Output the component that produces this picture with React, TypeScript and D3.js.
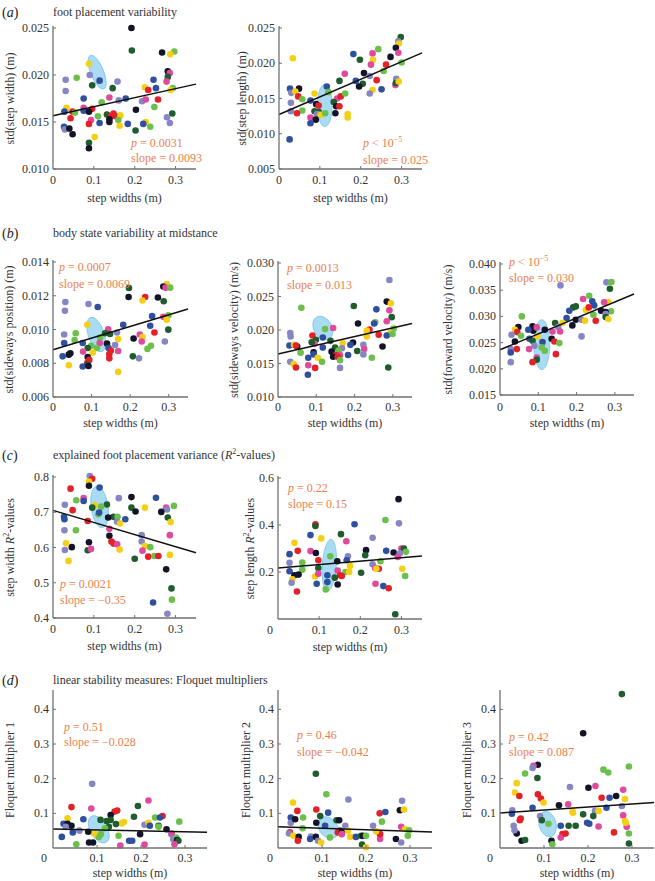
import React from "react";
import * as d3 from "d3";

const COLORS = ["#141428", "#1f5c2e", "#6cbf4a", "#f5cf14", "#e22128", "#df4a9d", "#2f4f9f", "#8686c4"];

type Pt = [number, number, number];

const xTickValues = [0, 0.1, 0.2, 0.3];

const stepWidthPts: Pt[] = [
  [0.192,0.0250,0],[0.193,0.0226,1],[0.267,0.0224,0],[0.297,0.0225,2],[0.287,0.0222,3],[0.088,0.0212,3],[0.281,0.0204,0],[0.286,0.0202,5],[0.281,0.0198,1],[0.058,0.0197,2],[0.031,0.0195,7],[0.090,0.0200,7],[0.114,0.0194,6],[0.158,0.0193,7],[0.246,0.0195,6],[0.278,0.0193,5],[0.096,0.0189,1],[0.146,0.0186,1],[0.225,0.0187,3],[0.252,0.0186,6],[0.293,0.0186,2],[0.288,0.0184,3],[0.233,0.0184,4],[0.031,0.0183,7],[0.075,0.0175,6],[0.138,0.0176,5],[0.178,0.0175,6],[0.161,0.0173,7],[0.218,0.0172,7],[0.227,0.0174,5],[0.257,0.0174,4],[0.119,0.0171,2],[0.033,0.0165,3],[0.028,0.0161,6],[0.075,0.0165,5],[0.096,0.0164,4],[0.075,0.0162,6],[0.088,0.0161,0],[0.048,0.0161,4],[0.054,0.0160,2],[0.132,0.0158,1],[0.203,0.0163,0],[0.248,0.0166,2],[0.292,0.0159,1],[0.148,0.0159,4],[0.154,0.0156,4],[0.165,0.0157,3],[0.110,0.0156,2],[0.142,0.0156,4],[0.043,0.0154,4],[0.138,0.0153,0],[0.093,0.0152,5],[0.160,0.0152,2],[0.138,0.0150,0],[0.114,0.0149,6],[0.088,0.0148,4],[0.183,0.0148,6],[0.227,0.0150,3],[0.221,0.0148,6],[0.238,0.0145,2],[0.163,0.0146,3],[0.279,0.0155,7],[0.286,0.0149,7],[0.027,0.0145,6],[0.029,0.0142,7],[0.040,0.0143,0],[0.048,0.0137,0],[0.102,0.0134,3],[0.088,0.0128,1],[0.088,0.0122,0],[0.202,0.0141,1]
];

const stepLengthPts: Pt[] = [
  [0.298,0.0237,1],[0.292,0.0231,7],[0.293,0.0228,3],[0.286,0.0222,0],[0.243,0.0220,2],[0.229,0.0214,5],[0.182,0.0213,6],[0.292,0.0215,5],[0.273,0.0209,0],[0.034,0.0207,3],[0.198,0.0205,1],[0.230,0.0205,3],[0.300,0.0201,2],[0.225,0.0198,5],[0.262,0.0198,4],[0.208,0.0186,0],[0.161,0.0185,5],[0.256,0.0189,2],[0.222,0.0182,7],[0.148,0.0175,1],[0.188,0.0175,6],[0.239,0.0176,4],[0.205,0.0171,1],[0.196,0.0167,0],[0.285,0.0169,5],[0.287,0.0178,7],[0.286,0.0172,1],[0.293,0.0174,3],[0.251,0.0163,6],[0.229,0.0162,3],[0.222,0.0157,7],[0.027,0.0164,6],[0.049,0.0164,0],[0.030,0.0158,7],[0.040,0.0160,3],[0.047,0.0153,4],[0.057,0.0149,2],[0.077,0.0147,6],[0.029,0.0144,7],[0.087,0.0157,3],[0.117,0.0167,6],[0.121,0.0159,2],[0.142,0.0150,5],[0.151,0.0153,4],[0.162,0.0157,2],[0.134,0.0145,1],[0.091,0.0142,0],[0.097,0.0140,4],[0.140,0.0139,0],[0.148,0.0139,4],[0.029,0.0132,7],[0.057,0.0133,2],[0.044,0.0129,4],[0.087,0.0132,1],[0.097,0.0131,1],[0.093,0.0128,7],[0.102,0.0127,3],[0.113,0.0129,2],[0.138,0.0129,0],[0.077,0.0123,5],[0.090,0.0120,0],[0.168,0.0128,3],[0.168,0.0123,3],[0.077,0.0115,6],[0.026,0.0092,6]
];

const sidePosPts: Pt[] = [
  [0.295,0.01269,3],[0.286,0.01255,0],[0.292,0.01248,5],[0.304,0.01248,2],[0.197,0.01246,1],[0.272,0.0119,0],[0.196,0.01193,0],[0.239,0.01193,4],[0.232,0.01172,3],[0.287,0.01167,1],[0.032,0.01163,7],[0.092,0.01151,7],[0.116,0.01133,6],[0.031,0.01111,7],[0.257,0.01079,6],[0.299,0.01084,2],[0.286,0.01075,5],[0.182,0.01028,6],[0.295,0.01058,3],[0.089,0.01028,3],[0.143,0.01001,5],[0.252,0.01022,6],[0.299,0.00999,1],[0.059,0.00978,2],[0.135,0.00978,1],[0.263,0.00982,4],[0.166,0.00982,7],[0.148,0.00973,1],[0.029,0.0097,7],[0.225,0.0097,5],[0.122,0.00952,2],[0.209,0.00947,0],[0.169,0.00943,3],[0.232,0.00956,3],[0.230,0.00929,5],[0.290,0.00929,7],[0.056,0.00938,2],[0.029,0.0092,6],[0.077,0.0092,6],[0.121,0.0092,5],[0.099,0.00904,2],[0.140,0.00917,0],[0.161,0.00908,7],[0.144,0.0089,6],[0.254,0.00904,2],[0.245,0.00885,2],[0.090,0.0089,1],[0.078,0.00869,5],[0.114,0.0089,2],[0.169,0.00873,5],[0.103,0.00864,3],[0.045,0.00859,0],[0.041,0.00851,0],[0.150,0.00876,4],[0.146,0.00855,4],[0.025,0.00841,6],[0.207,0.00841,1],[0.090,0.00837,0],[0.146,0.00829,4],[0.223,0.00829,7],[0.094,0.0082,4],[0.089,0.00802,4],[0.089,0.00793,1],[0.077,0.00781,6],[0.092,0.00784,0],[0.041,0.00788,3],[0.169,0.00749,3]
];

const sideVelPts: Pt[] = [
  [0.291,0.02747,7],[0.284,0.02424,0],[0.295,0.02399,3],[0.061,0.02333,2],[0.198,0.02359,1],[0.257,0.02308,6],[0.291,0.02293,5],[0.297,0.02192,1],[0.284,0.02131,5],[0.254,0.02116,2],[0.209,0.02096,0],[0.251,0.02096,6],[0.144,0.0203,5],[0.123,0.02015,2],[0.302,0.0202,2],[0.239,0.02005,4],[0.232,0.0199,3],[0.293,0.01955,3],[0.284,0.01919,6],[0.299,0.0194,2],[0.263,0.01929,4],[0.232,0.01904,3],[0.032,0.01955,7],[0.033,0.01904,7],[0.090,0.01919,4],[0.117,0.01889,6],[0.099,0.01854,1],[0.137,0.01838,1],[0.095,0.01793,5],[0.088,0.01818,1],[0.169,0.01803,3],[0.196,0.01813,0],[0.189,0.01778,6],[0.223,0.01778,7],[0.030,0.01768,6],[0.042,0.01778,3],[0.050,0.01753,0],[0.047,0.01768,4],[0.149,0.01737,1],[0.117,0.01737,6],[0.167,0.01727,7],[0.225,0.01717,5],[0.140,0.01677,0],[0.207,0.01687,1],[0.158,0.01692,2],[0.093,0.01667,0],[0.093,0.01636,6],[0.151,0.01626,4],[0.144,0.0160,0],[0.223,0.01636,7],[0.059,0.01662,2],[0.162,0.01626,5],[0.183,0.01626,6],[0.156,0.0160,4],[0.104,0.01586,3],[0.079,0.01586,6],[0.162,0.0155,2],[0.245,0.01586,2],[0.273,0.01753,0],[0.032,0.01525,7],[0.115,0.01525,2],[0.041,0.0149,3],[0.047,0.0144,4],[0.079,0.01475,5],[0.097,0.01434,4],[0.162,0.01434,7],[0.288,0.0144,1],[0.078,0.01333,6]
];

const fwdVelPts: Pt[] = [
  [0.158,0.03592,7],[0.278,0.0365,7],[0.291,0.03656,2],[0.287,0.03529,1],[0.233,0.03395,2],[0.217,0.03331,5],[0.241,0.03287,6],[0.283,0.03274,3],[0.272,0.03268,5],[0.246,0.0321,6],[0.198,0.03191,1],[0.191,0.03172,1],[0.181,0.03108,6],[0.224,0.03127,3],[0.232,0.03172,4],[0.264,0.03108,0],[0.290,0.03096,2],[0.276,0.03083,0],[0.276,0.03045,7],[0.244,0.03032,2],[0.250,0.02917,4],[0.057,0.0300,2],[0.276,0.02987,1],[0.283,0.02949,3],[0.174,0.02968,6],[0.198,0.02936,0],[0.213,0.02936,7],[0.222,0.02917,3],[0.144,0.02873,1],[0.163,0.02873,3],[0.189,0.02828,0],[0.152,0.02796,7],[0.048,0.02796,0],[0.157,0.02713,5],[0.137,0.02713,5],[0.085,0.02809,0],[0.087,0.02726,0],[0.074,0.02745,6],[0.039,0.02745,3],[0.045,0.0270,4],[0.096,0.0279,5],[0.030,0.0265,7],[0.055,0.0263,2],[0.117,0.02745,0],[0.213,0.02618,7],[0.098,0.02618,3],[0.077,0.02573,6],[0.085,0.02535,1],[0.039,0.02522,0],[0.135,0.02573,0],[0.142,0.02522,4],[0.111,0.0251,6],[0.155,0.0249,2],[0.028,0.02376,7],[0.028,0.02312,6],[0.044,0.02376,4],[0.076,0.02376,5],[0.090,0.0244,7],[0.109,0.02408,2],[0.117,0.02344,2],[0.146,0.0228,4],[0.096,0.02217,5],[0.096,0.02172,1],[0.085,0.02127,4],[0.028,0.02127,7]
];

const widthR2Pts: Pt[] = [
  [0.090,0.803,7],[0.096,0.795,4],[0.088,0.787,3],[0.088,0.775,0],[0.043,0.767,4],[0.114,0.770,6],[0.075,0.740,5],[0.075,0.732,6],[0.057,0.734,2],[0.161,0.740,7],[0.192,0.743,0],[0.252,0.741,6],[0.029,0.721,7],[0.102,0.720,3],[0.132,0.722,1],[0.118,0.716,2],[0.096,0.713,1],[0.277,0.713,5],[0.279,0.708,7],[0.296,0.718,2],[0.225,0.713,3],[0.192,0.713,1],[0.048,0.706,4],[0.202,0.702,0],[0.265,0.701,0],[0.027,0.687,6],[0.028,0.680,6],[0.148,0.687,1],[0.158,0.687,2],[0.177,0.680,6],[0.111,0.694,2],[0.113,0.699,6],[0.135,0.685,0],[0.281,0.685,1],[0.157,0.673,7],[0.164,0.668,3],[0.288,0.672,3],[0.085,0.675,4],[0.138,0.653,5],[0.028,0.649,7],[0.056,0.649,2],[0.217,0.635,7],[0.138,0.633,0],[0.286,0.635,5],[0.143,0.617,4],[0.148,0.611,4],[0.157,0.609,5],[0.217,0.617,7],[0.225,0.604,3],[0.238,0.601,2],[0.088,0.615,0],[0.046,0.601,0],[0.032,0.612,3],[0.029,0.593,7],[0.085,0.592,1],[0.093,0.596,5],[0.163,0.594,3],[0.219,0.591,5],[0.038,0.562,3],[0.200,0.568,1],[0.233,0.574,4],[0.248,0.576,2],[0.258,0.576,4],[0.286,0.579,3],[0.277,0.538,0],[0.290,0.484,1],[0.245,0.444,6],[0.280,0.412,7],[0.291,0.452,2]
];

const lengthR2Pts: Pt[] = [
  [0.293,0.51,0],[0.261,0.421,2],[0.294,0.407,7],[0.091,0.403,4],[0.091,0.396,1],[0.186,0.403,6],[0.153,0.361,1],[0.079,0.357,6],[0.230,0.346,7],[0.040,0.324,3],[0.105,0.343,3],[0.166,0.331,5],[0.214,0.293,0],[0.048,0.290,4],[0.079,0.289,5],[0.092,0.281,0],[0.263,0.290,6],[0.281,0.283,0],[0.300,0.300,5],[0.306,0.300,1],[0.311,0.286,2],[0.296,0.279,7],[0.291,0.264,5],[0.028,0.276,6],[0.170,0.267,7],[0.212,0.271,1],[0.127,0.267,2],[0.098,0.250,4],[0.167,0.250,6],[0.028,0.239,7],[0.059,0.240,2],[0.144,0.246,0],[0.230,0.233,7],[0.249,0.246,2],[0.098,0.217,1],[0.059,0.210,2],[0.175,0.226,3],[0.245,0.214,4],[0.236,0.217,5],[0.239,0.214,3],[0.028,0.203,6],[0.145,0.206,5],[0.202,0.197,1],[0.164,0.200,2],[0.173,0.200,3],[0.302,0.214,3],[0.151,0.186,4],[0.155,0.183,4],[0.040,0.186,0],[0.050,0.189,0],[0.090,0.181,3],[0.120,0.186,6],[0.098,0.193,5],[0.138,0.176,1],[0.309,0.183,2],[0.035,0.169,3],[0.033,0.154,7],[0.120,0.157,6],[0.094,0.150,6],[0.145,0.147,0],[0.237,0.150,5],[0.256,0.140,6],[0.269,0.131,4],[0.046,0.117,4],[0.116,0.126,2],[0.285,0.020,1]
];

const floquet1Pts: Pt[] = [
  [0.089,0.185,7],[0.087,0.114,5],[0.042,0.118,4],[0.217,0.137,5],[0.193,0.121,1],[0.140,0.105,4],[0.146,0.108,4],[0.131,0.095,0],[0.033,0.086,3],[0.069,0.083,6],[0.184,0.090,1],[0.232,0.088,2],[0.249,0.092,4],[0.243,0.088,6],[0.287,0.076,2],[0.024,0.070,6],[0.033,0.070,0],[0.042,0.064,0],[0.029,0.061,7],[0.122,0.078,1],[0.156,0.071,3],[0.208,0.067,7],[0.217,0.073,3],[0.240,0.064,1],[0.220,0.064,6],[0.240,0.061,2],[0.258,0.054,0],[0.269,0.040,7],[0.270,0.042,5],[0.273,0.026,7],[0.280,0.030,2],[0.282,0.023,0],[0.285,0.021,1],[0.276,0.011,5],[0.020,0.032,6],[0.045,0.045,6],[0.060,0.050,7],[0.053,0.011,2],[0.082,0.016,0],[0.091,0.016,0],[0.104,0.032,2],[0.093,0.042,3],[0.109,0.040,2],[0.080,0.047,0],[0.127,0.061,1],[0.118,0.057,2],[0.149,0.035,2],[0.153,0.007,5],[0.173,0.021,6],[0.180,0.021,6],[0.198,0.040,0],[0.208,0.010,5],[0.143,0.069,1],[0.161,0.075,3],[0.131,0.081,1],[0.108,0.081,1]
];

const floquet2Pts: Pt[] = [
  [0.086,0.214,1],[0.110,0.155,2],[0.160,0.140,7],[0.034,0.131,3],[0.282,0.136,7],[0.044,0.107,4],[0.087,0.111,4],[0.277,0.109,0],[0.286,0.111,3],[0.114,0.102,6],[0.231,0.100,4],[0.244,0.104,6],[0.029,0.088,6],[0.057,0.088,2],[0.096,0.092,1],[0.029,0.073,7],[0.039,0.083,0],[0.087,0.073,0],[0.133,0.080,1],[0.139,0.080,0],[0.236,0.076,2],[0.107,0.064,6],[0.027,0.045,4],[0.025,0.042,7],[0.035,0.035,3],[0.047,0.032,0],[0.045,0.021,4],[0.056,0.057,2],[0.075,0.033,7],[0.073,0.026,6],[0.086,0.032,0],[0.091,0.021,7],[0.098,0.016,3],[0.118,0.030,2],[0.141,0.050,1],[0.136,0.045,4],[0.145,0.045,0],[0.145,0.040,5],[0.164,0.032,3],[0.177,0.032,6],[0.189,0.035,1],[0.193,0.035,0],[0.200,0.035,2],[0.191,0.010,1],[0.200,0.002,3],[0.232,0.026,5],[0.232,0.040,4],[0.223,0.048,3],[0.216,0.064,7],[0.268,0.026,0],[0.280,0.016,7],[0.295,0.035,2],[0.280,0.061,5],[0.289,0.054,3],[0.298,0.051,2],[0.153,0.064,7],[0.159,0.050,3]
];

const floquet3Pts: Pt[] = [
  [0.277,0.444,1],[0.189,0.331,0],[0.293,0.235,2],[0.086,0.240,0],[0.076,0.237,5],[0.074,0.231,7],[0.057,0.215,2],[0.235,0.226,2],[0.246,0.218,2],[0.085,0.202,1],[0.038,0.187,3],[0.201,0.174,0],[0.217,0.179,5],[0.159,0.176,7],[0.034,0.160,3],[0.044,0.150,4],[0.086,0.155,4],[0.280,0.168,5],[0.093,0.143,4],[0.231,0.145,4],[0.249,0.145,6],[0.264,0.150,0],[0.099,0.131,3],[0.284,0.141,3],[0.134,0.123,0],[0.155,0.126,5],[0.074,0.116,6],[0.028,0.109,7],[0.027,0.099,6],[0.216,0.107,7],[0.277,0.121,7],[0.224,0.107,3],[0.165,0.105,3],[0.189,0.097,1],[0.242,0.116,6],[0.047,0.085,4],[0.091,0.092,7],[0.095,0.080,1],[0.110,0.070,2],[0.280,0.094,5],[0.284,0.078,3],[0.038,0.042,0],[0.049,0.021,0],[0.057,0.023,1],[0.045,0.080,4],[0.031,0.064,7],[0.117,0.021,0],[0.119,0.011,2],[0.138,0.064,6],[0.156,0.064,1],[0.172,0.064,1],[0.142,0.040,4],[0.138,0.030,5],[0.149,0.042,4],[0.198,0.073,6],[0.203,0.070,6],[0.224,0.062,5],[0.259,0.045,4],[0.288,0.061,5],[0.293,0.042,2],[0.293,0.013,1],[0.286,0.073,3],[0.212,0.092,1],[0.166,0.102,3],[0.033,0.051,7]
];

type PanelSpec = {
  left: number; right: number; top: number; bottom: number;
  yDomain: [number, number]; yTicks: number[]; yDigits: number;
  yLabel: React.ReactNode; yLabelX: number;
  pts: Pt[]; fit: [number, number];
  ell: { x: number; y: number; rx: number; ry: number; rot: number };
  pText: React.ReactNode; slopeText: string; annX: number; annY1: number; annY2: number;
  zeroShift: number; tickGap: number; labelGap: number;
};

const ORANGE = "#ea7f4e";
const AXIS = "#707070";
const FONT = "'Liberation Serif', 'DejaVu Serif', 'Times New Roman', serif";

const pEq = (v: string) => (<><tspan fontStyle="italic">p</tspan>{" = " + v}</>);
const pLess = (<><tspan fontStyle="italic">p</tspan>{" < 10"}<tspan fontSize={8} dy={-5}>{"\u22125"}</tspan></>);
const R2 = (pre: string, post: string) => (<>{pre}<tspan fontStyle="italic">R</tspan><tspan fontSize={8} dy={-5}>2</tspan><tspan dy={5}>{post}</tspan></>);

function Panel({ s }: { s: PanelSpec }) {
  const x = d3.scaleLinear().domain([0, 0.35]).range([s.left, s.right]);
  const y = d3.scaleLinear().domain(s.yDomain).range([s.bottom, s.top]);
  const fmt = d3.format(`.${s.yDigits}f`);
  const line = d3.line<number>().x((d) => x(d)).y((d) => y(s.fit[0] + s.fit[1] * d));
  const midY = (s.top + s.bottom) / 2;
  return (
    <g>
      <ellipse
        transform={`translate(${x(s.ell.x)},${y(s.ell.y)}) rotate(${s.ell.rot})`}
        rx={s.ell.rx} ry={s.ell.ry} fill="#a9dbf2" stroke="#78c6ea" strokeWidth={0.8}
      />
      {s.pts.map((p, i) => (
        <circle key={i} cx={x(p[0])} cy={y(p[1])} r={3.3} fill={COLORS[p[2]]} />
      ))}
      <path d={line([0, 0.35]) || ""} stroke="#111" strokeWidth={1.5} fill="none" />
      <line x1={s.left} x2={s.left} y1={s.top - 2} y2={s.bottom} stroke={AXIS} strokeWidth={1.3} />
      <line x1={s.left} x2={s.right} y1={s.bottom} y2={s.bottom} stroke={AXIS} strokeWidth={1.3} />
      {s.yTicks.map((t) => (
        <g key={t}>
          <line x1={s.left} x2={s.left + 3} y1={y(t)} y2={y(t)} stroke={AXIS} strokeWidth={1} />
          <text x={s.left - 4} y={y(t) + 4} textAnchor="end" fontSize={12} fill="#333">{fmt(t)}</text>
        </g>
      ))}
      {xTickValues.map((t) => (
        <g key={t}>
          {t > 0 && <line x1={x(t)} x2={x(t)} y1={s.bottom} y2={s.bottom - 3} stroke={AXIS} strokeWidth={1} />}
          <text x={x(t) - (t === 0 ? s.zeroShift : 0)} y={s.bottom + s.tickGap} textAnchor="middle" fontSize={12} fill="#333">
            {t === 0 ? "0" : d3.format(".1f")(t)}
          </text>
        </g>
      ))}
      <text x={(s.left + s.right) / 2} y={s.bottom + s.labelGap} textAnchor="middle" fontSize={12} fill="#333">step widths (m)</text>
      <text transform={`translate(${s.yLabelX},${midY}) rotate(-90)`} textAnchor="middle" dy={4} fontSize={12} fill="#333">{s.yLabel}</text>
      <text x={s.annX} y={s.annY1 + 4} fontSize={12} fill={ORANGE}>{s.pText}</text>
      <text x={s.annX} y={s.annY2 + 4} fontSize={12} fill={ORANGE}>{s.slopeText}</text>
    </g>
  );
}

const ticks = (a: number, b: number, st: number) => d3.range(a, b + st / 2, st);

const panels: PanelSpec[] = [
  { left: 53, right: 196, top: 28, bottom: 169, yDomain: [0.01, 0.025], yTicks: ticks(0.01, 0.025, 0.005), yDigits: 3,
    yLabel: "std(step width)  (m)", yLabelX: 10, pts: stepWidthPts, fit: [0.01567, 0.0096],
    ell: { x: 0.108, y: 0.0203, rx: 6.5, ry: 18, rot: -22 }, pText: pEq("0.0031"), slopeText: "slope = 0.0093",
    annX: 131, annY1: 143, annY2: 158, zeroShift: 0, tickGap: 15, labelGap: 33 },
  { left: 279, right: 422, top: 28, bottom: 169, yDomain: [0.005, 0.025], yTicks: ticks(0.005, 0.025, 0.005), yDigits: 3,
    yLabel: "std(step length)  (m)", yLabelX: 242, pts: stepLengthPts, fit: [0.01273, 0.025],
    ell: { x: 0.112, y: 0.014, rx: 7.5, ry: 21, rot: 0 }, pText: pLess, slopeText: "slope = 0.025",
    annX: 363, annY1: 143, annY2: 160, zeroShift: 0, tickGap: 15, labelGap: 33 },
  { left: 53, right: 188, top: 262, bottom: 397, yDomain: [0.006, 0.014], yTicks: ticks(0.006, 0.014, 0.002), yDigits: 3,
    yLabel: "std(sideways position) (m)", yLabelX: 9, pts: sidePosPts, fit: [0.0088, 0.0069],
    ell: { x: 0.112, y: 0.0097, rx: 8, ry: 18, rot: -18 }, pText: pEq("0.0007"), slopeText: "slope = 0.0069",
    annX: 59, annY1: 267, annY2: 284, zeroShift: 0, tickGap: 14, labelGap: 30 },
  { left: 278, right: 412, top: 263, bottom: 397, yDomain: [0.01, 0.03], yTicks: ticks(0.01, 0.03, 0.005), yDigits: 3,
    yLabel: "std(sideways velocity)  (m/s)", yLabelX: 234, pts: sideVelPts, fit: [0.01641, 0.013],
    ell: { x: 0.117, y: 0.0203, rx: 9, ry: 12.5, rot: -30 }, pText: pEq("0.0013"), slopeText: "slope = 0.013",
    annX: 287, annY1: 268, annY2: 285, zeroShift: 0, tickGap: 14, labelGap: 30 },
  { left: 500, right: 634, top: 264, bottom: 395, yDomain: [0.015, 0.04], yTicks: ticks(0.015, 0.04, 0.005), yDigits: 3,
    yLabel: "std(forward velocity)  (m/s)", yLabelX: 448, pts: fwdVelPts, fit: [0.02363, 0.0304],
    ell: { x: 0.109, y: 0.0246, rx: 8, ry: 25, rot: 0 }, pText: pLess, slopeText: "slope = 0.030",
    annX: 509, annY1: 262, annY2: 278, zeroShift: 0, tickGap: 16, labelGap: 32 },
  { left: 53, right: 196, top: 477, bottom: 618, yDomain: [0.4, 0.8], yTicks: ticks(0.4, 0.8, 0.1), yDigits: 1,
    yLabel: R2("step width ", "-values"), yLabelX: 10, pts: widthR2Pts, fit: [0.7054, -0.343],
    ell: { x: 0.114, y: 0.715, rx: 8.5, ry: 21, rot: -8 }, pText: pEq("0.0021"), slopeText: "slope = \u22120.35",
    annX: 60, annY1: 584, annY2: 600, zeroShift: 0, tickGap: 15, labelGap: 32 },
  { left: 278, right: 422, top: 478, bottom: 619, yDomain: [0, 0.6], yTicks: [0.2, 0.4, 0.6], yDigits: 1,
    yLabel: R2("step length ", "-values"), yLabelX: 250, pts: lengthR2Pts, fit: [0.217, 0.147],
    ell: { x: 0.1246, y: 0.2286, rx: 7, ry: 26, rot: 4 }, pText: pEq("0.22"), slopeText: "slope = 0.15",
    annX: 288, annY1: 488, annY2: 504, zeroShift: 8, tickGap: 15, labelGap: 32 },
  { left: 53, right: 207, top: 692, bottom: 848, yDomain: [0, 0.45], yTicks: [0.1, 0.2, 0.3, 0.4], yDigits: 1,
    yLabel: "Floquet multiplier 1", yLabelX: 10, pts: floquet1Pts, fit: [0.055, -0.028],
    ell: { x: 0.104, y: 0.054, rx: 8.5, ry: 15, rot: -30 }, pText: pEq("0.51"), slopeText: "slope = \u22120.028",
    annX: 64, annY1: 727, annY2: 742, zeroShift: 9, tickGap: 14, labelGap: 29 },
  { left: 278, right: 432, top: 692, bottom: 848, yDomain: [0, 0.45], yTicks: [0.1, 0.2, 0.3, 0.4], yDigits: 1,
    yLabel: "Floquet multiplier 2", yLabelX: 246, pts: floquet2Pts, fit: [0.061, -0.042],
    ell: { x: 0.114, y: 0.059, rx: 9, ry: 12, rot: -40 }, pText: pEq("0.46"), slopeText: "slope = \u22120.042",
    annX: 297, annY1: 735, annY2: 752, zeroShift: 8, tickGap: 14, labelGap: 29 },
  { left: 500, right: 654, top: 692, bottom: 848, yDomain: [0, 0.45], yTicks: [0.1, 0.2, 0.3, 0.4], yDigits: 1,
    yLabel: "Floquet multiplier 3", yLabelX: 467, pts: floquet3Pts, fit: [0.101, 0.087],
    ell: { x: 0.108, y: 0.069, rx: 8.5, ry: 13, rot: -15 }, pText: pEq("0.42"), slopeText: "slope = 0.087",
    annX: 509, annY1: 737, annY2: 752, zeroShift: 10, tickGap: 14, labelGap: 29 },
];

const rowTitles: { tag: string; y: number; text: React.ReactNode }[] = [
  { tag: "a", y: 12, text: "foot placement variability" },
  { tag: "b", y: 233, text: "body state variability at midstance" },
  { tag: "c", y: 455, text: R2("explained foot placement variance (", "-values)") },
  { tag: "d", y: 680, text: "linear stability measures: Floquet multipliers" },
];

export default function App() {
  return (
    <svg width={655} height={881} style={{ position: "absolute", left: 0, top: 0, background: "#fff", fontFamily: FONT }}>
      {rowTitles.map((r) => (
        <g key={r.tag}>
          <text x={2} y={r.y + 5} fontSize={14} fill="#222">(<tspan fontStyle="italic">{r.tag}</tspan>)</text>
          <text x={53} y={r.y + 4} fontSize={12} fill="#333">{r.text}</text>
        </g>
      ))}
      {panels.map((s, i) => <Panel key={i} s={s} />)}
    </svg>
  );
}
